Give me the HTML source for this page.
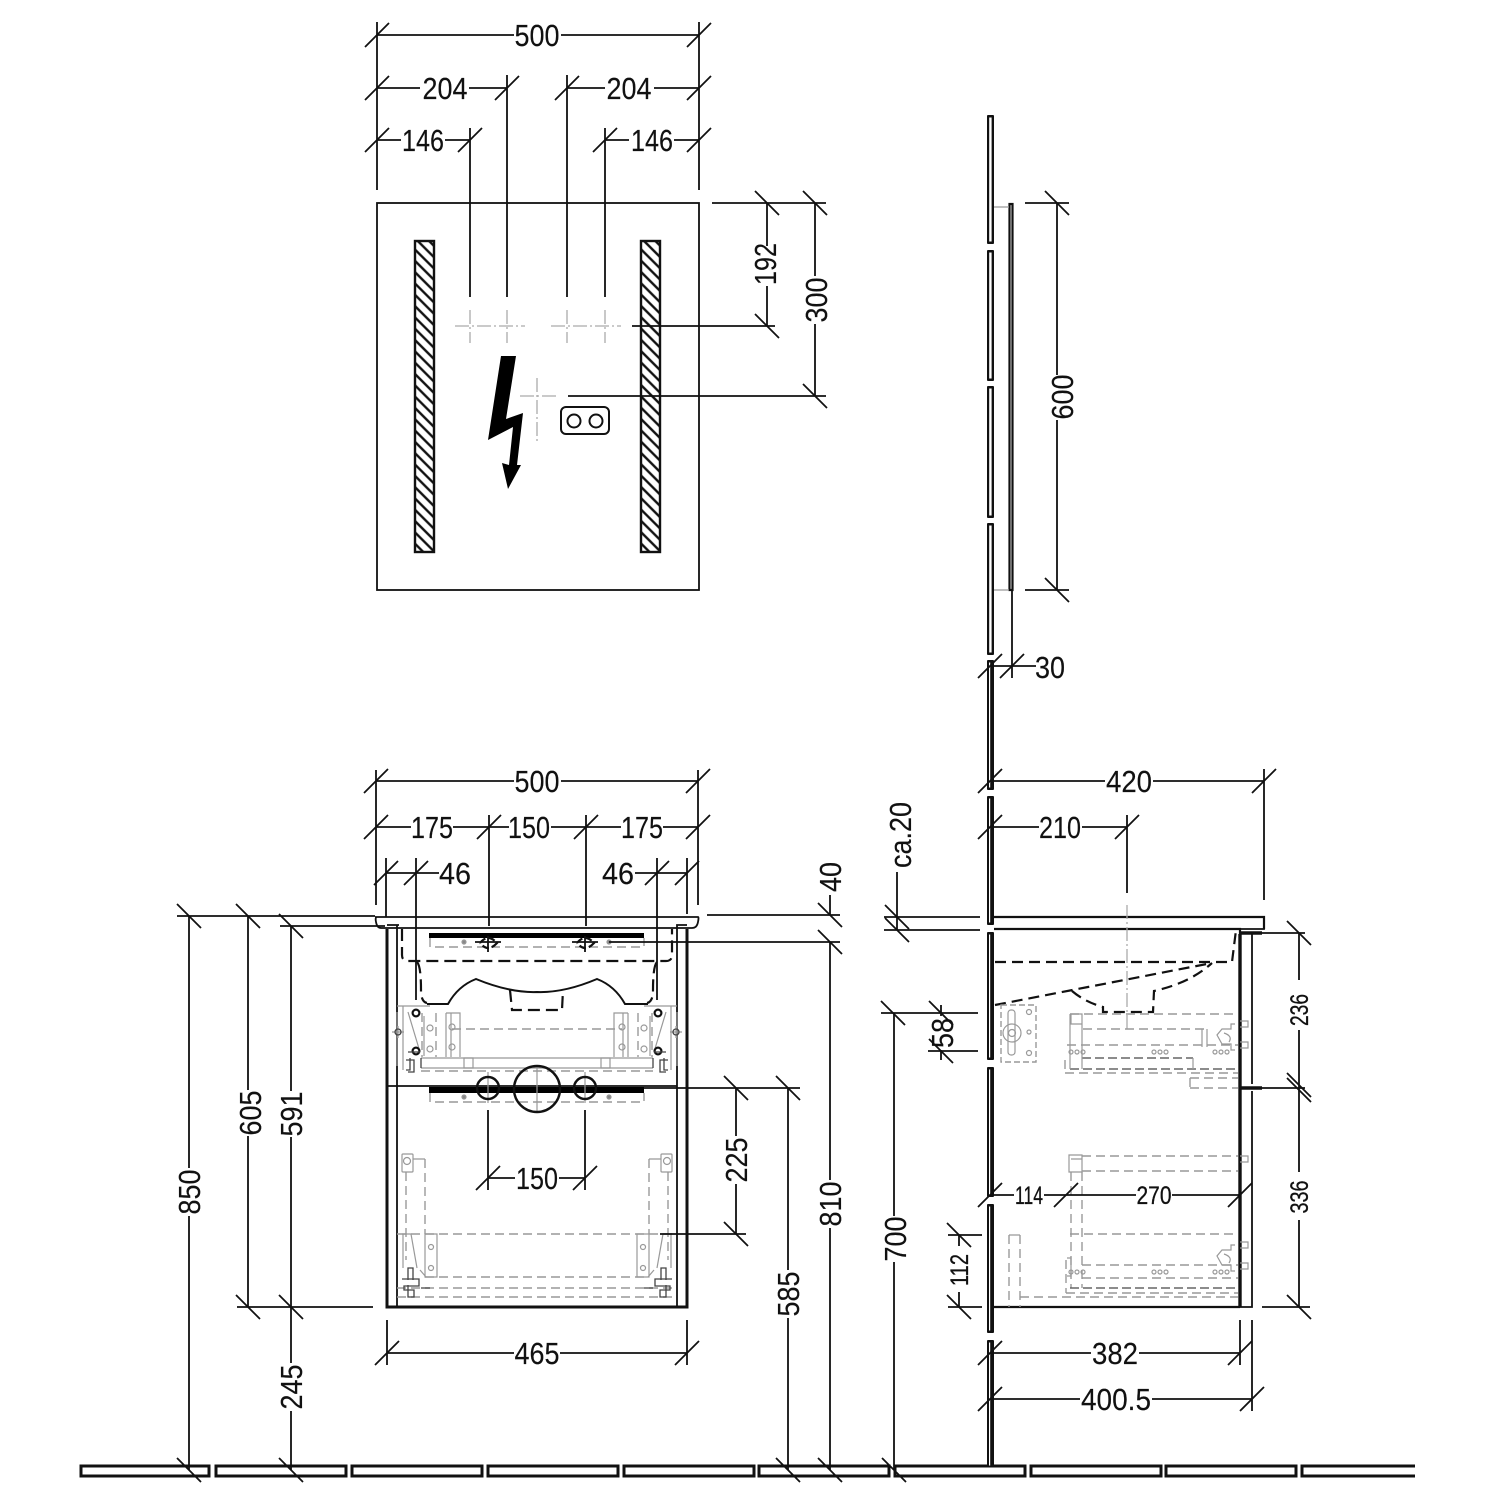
<!DOCTYPE html>
<html><head><meta charset="utf-8"><style>
html,body{margin:0;padding:0;background:#fff}
svg{display:block}
text{font-family:"Liberation Sans",sans-serif;font-size:31px;fill:#111;stroke:#111;stroke-width:.15;text-anchor:middle}
.s{font-size:25px;stroke-width:.3}
path,line,rect,circle,polyline{fill:none}
.k{stroke:#111;stroke-width:1.8}
.g{stroke:#999;stroke-width:1.2}
.gd{stroke:#999;stroke-width:1.4;stroke-dasharray:9 5}
.dd{stroke:#666;stroke-width:1.4;stroke-dasharray:9 4}
.bd{stroke:#111;stroke-width:2.2;stroke-dasharray:11 6}
.th{stroke:#111;stroke-width:3}
.cd{stroke:#aaa;stroke-width:1.3;stroke-dasharray:14 3 2 3}
.hw{stroke:#444;stroke-width:1.3}
.wb{fill:#111}
.ww{fill:#fff}
</style></head><body>
<svg width="1500" height="1500" viewBox="0 0 1500 1500" xmlns="http://www.w3.org/2000/svg">
<defs>
<path id="h" class="k" d="M-12 12L12-12"/>
<path id="v" class="k" d="M-12-12L12 12"/>
<pattern id="hat" width="8" height="8" patternUnits="userSpaceOnUse" patternTransform="rotate(45)"><rect width="8" height="8" class="ww"/><line x1="0" y1="3" x2="8" y2="3" stroke="#111" stroke-width="2.4"/></pattern>
<g id="fu">
<path class="g" d="M397 1006H430M403 1006V1070M397 1012V1066M408 1012L420 1052M424 1016V1056M398 1026V1038M392 1032H404"/>
<path class="gd" d="M422 1013V1057M436 1013V1057"/>
<path class="g" d="M446 1013H460V1057M446 1013V1057M451 1013V1057M464 1058H473V1068H464Z"/>
<circle class="g" cx="430" cy="1028" r="3"/><circle class="g" cx="430" cy="1049" r="3"/><circle class="g" cx="452" cy="1027" r="3"/><circle class="g" cx="452" cy="1047" r="3"/>
<circle class="hw" cx="398" cy="1032" r="3"/>
<circle cx="416" cy="1013" r="3.4" stroke="#111" stroke-width="2.2"/><circle cx="416" cy="1051" r="3.4" stroke="#111" stroke-width="2.2"/>
<path class="hw" d="M408 1052H420M410 1058V1070H406M406 1060H414V1072H408M421 1058V1068"/>
</g>
<g id="fl">
<rect class="g" x="402" y="1154" width="11" height="18" rx="1"/><circle class="g" cx="407" cy="1161" r="3.5"/>
<path class="g" d="M413 1159H425M425 1234H437V1277H425Z"/>
<path class="gd" d="M425 1159V1234M406 1172V1260"/>
<circle class="g" cx="431" cy="1247" r="2.5"/><circle class="g" cx="431" cy="1268" r="2.5"/>
<path class="g" d="M402 1234H411L417 1268M403 1234V1268M420 1270L426 1277"/>
<path class="hw" d="M408 1280V1268H413V1280M402 1279H419V1286H404V1290H414V1297H408V1285M421 1288H430"/>
</g>
<g id="dr">
<circle class="g" cx="0" cy="0" r="2"/><circle class="g" cx="6" cy="0" r="2"/><circle class="g" cx="12" cy="0" r="2"/>
</g>
<g id="hook">
<path class="g" d="M1235 0H1231V5H1222L1217 11L1222 20H1231V26H1235M1240-3H1248V3H1240M1240 18H1248V24H1240M1224 9Q1233 12 1229 18"/>
</g>
</defs>

<!-- floor -->
<path class="th" d="M81 1466H209V1476H81ZM216 1466H346V1476H216ZM352 1466H482V1476H352ZM488 1466H618V1476H488ZM624 1466H754V1476H624ZM759 1466H889V1476H759ZM895 1466H1025V1476H895ZM1031 1466H1161V1476H1031ZM1166 1466H1296V1476H1166ZM1415 1466H1302V1476H1415"/>

<!-- mirror front -->
<rect class="k" x="377" y="203" width="322" height="387"/>
<rect x="415" y="241" width="19" height="311" style="fill:url(#hat)" stroke="#111" stroke-width="2.4"/>
<rect x="641" y="241" width="19" height="311" style="fill:url(#hat)" stroke="#111" stroke-width="2.4"/>
<path class="cd" d="M455 326H525M551 326H621M470 310V343M507 310V343M567 310V343M605 310V343M520 396H556M537 378V443"/>
<polygon points="501,356 516,356 506,419 523,413 517,465 521,465 508,489 502,463 509,465 513,427 488,440" style="fill:#000"/>
<rect x="561" y="407" width="48" height="27" rx="5" stroke="#111" stroke-width="2"/>
<circle cx="574" cy="421" r="6.5" stroke="#111" stroke-width="2"/><circle cx="596" cy="421" r="6.5" stroke="#111" stroke-width="2"/>

<!-- top dims -->
<path class="k" d="M377 22V190M699 22V190M377 35H514M561 35H699M377 88H420M469 88H507M567 88H605M654 88H699M507 75V297M567 75V297M377 140H401M445 140H470M605 140H629M674 140H699M470 128V297M605 128V297
M712 203H775M767 203V246M767 286V326M632 326H775M775 203H826M815 203V276M815 324V396M568 396H826"/>
<g>
<use href="#h" x="377" y="35"/><use href="#h" x="699" y="35"/><use href="#h" x="377" y="88"/><use href="#h" x="507" y="88"/><use href="#h" x="567" y="88"/><use href="#h" x="699" y="88"/><use href="#h" x="377" y="140"/><use href="#h" x="470" y="140"/><use href="#h" x="605" y="140"/><use href="#h" x="699" y="140"/>
<use href="#v" x="767" y="203"/><use href="#v" x="767" y="326"/><use href="#v" x="815" y="203"/><use href="#v" x="815" y="396"/>
</g>

<!-- wall -->
<rect class="wb" x="987" y="115" width="7" height="129" rx="1"/><rect class="ww" x="989.2" y="117.5" width="2.4" height="124"/>
<rect class="wb" x="987" y="250" width="7" height="131" rx="1"/><rect class="ww" x="989.2" y="252.5" width="2.4" height="126"/>
<rect class="wb" x="987" y="386" width="7" height="132" rx="1"/><rect class="ww" x="989.2" y="388.5" width="2.4" height="127"/>
<rect class="wb" x="987" y="523" width="7" height="132" rx="1"/><rect class="ww" x="989.2" y="525.5" width="2.4" height="127"/>
<rect class="wb" x="987" y="660" width="7" height="130" rx="1"/><rect class="ww" x="989" y="662.5" width="1.2" height="125"/>
<rect class="wb" x="987" y="796" width="7" height="129" rx="1"/><rect class="ww" x="989" y="798.5" width="1.2" height="124"/>
<rect class="wb" x="987" y="932" width="7" height="128" rx="1"/><rect class="ww" x="989" y="934.5" width="1.2" height="123"/>
<rect class="wb" x="987" y="1067" width="7" height="130" rx="1"/><rect class="ww" x="989" y="1069.5" width="1.2" height="125"/>
<rect class="wb" x="987" y="1204" width="7" height="129" rx="1"/><rect class="ww" x="989" y="1206.5" width="1.2" height="124"/>
<rect class="wb" x="987" y="1340" width="7" height="126" rx="1"/><rect class="ww" x="989" y="1342.5" width="1.2" height="123"/>
<rect x="1009.5" y="204" width="3" height="386" stroke="#111" stroke-width="2.2"/>
<path class="g" d="M994 207H1009M994 590H1009"/>

<!-- right dims upper -->
<path class="k" d="M1025 203H1069M1025 590H1069M1057 203V375M1057 420V590M1012 590V678M990 666H1036M990 781H1105M1153 781H1264M1264 769V900M990 827H1039M1082 827H1127M1127 815V893"/>
<use href="#v" x="1057" y="203"/><use href="#v" x="1057" y="590"/><use href="#h" x="990" y="666"/><use href="#h" x="1012" y="666"/><use href="#h" x="990" y="781"/><use href="#h" x="1264" y="781"/><use href="#h" x="990" y="827"/><use href="#h" x="1127" y="827"/>

<!-- side cabinet -->
<path class="th" style="stroke-width:2.2" d="M994 917H1264V929M994 929H1240V934M994 1307H1240"/>
<path class="k" d="M1264 917V929H1240"/>
<path stroke="#111" stroke-width="3.4" d="M1240 934V1307M1240 933H1262M1240 1088H1262"/>
<path class="k" d="M1252 934V1084M1252 1091V1307H1240M1262 933H1305M1262 1088H1305M1262 1307H1310M1299 933V980M1299 1030V1172M1299 1220V1307"/>
<use href="#v" x="1299" y="933"/><use href="#v" x="1299" y="1085"/><use href="#v" x="1299" y="1090"/><use href="#v" x="1299" y="1307"/>
<path class="cd" d="M1127 905V1030"/>
<path class="bd" d="M995 962H1232L1236 930M995 1005L1212 963M1072 991Q1085 1002 1103 1007V1012H1153L1154 991Q1190 983 1212 963"/>

<!-- side hardware upper -->
<rect class="gd" x="1001" y="1005" width="35" height="57" style="stroke-dasharray:6 3"/>
<rect class="g" x="1008" y="1010" width="7" height="45" rx="3"/><circle class="g" cx="1012" cy="1033" r="3.5"/><circle class="g" cx="1012" cy="1033" r="9"/>
<circle class="g" cx="1029" cy="1012" r="2.5"/><circle class="g" cx="1029" cy="1032" r="2"/><circle class="g" cx="1029" cy="1053" r="2.5"/>
<path class="gd" d="M1070 1014H1238M1083 1029H1205M1067 1045H1238M1190 1078H1238M1190 1088H1238M1065 1073H1238M1190 1078V1088M1065 1060V1073"/>
<path class="dd" d="M1082 1058H1193M1070 1069H1238"/>
<path class="g" d="M1071 1014H1082V1024H1071ZM1082 1014V1069M1070 1014V1069M1202 1029V1047M1207 1029V1047M1193 1058V1069"/>
<use href="#dr" x="1071" y="1052"/><use href="#dr" x="1154" y="1052"/><use href="#dr" x="1215" y="1052"/>
<use href="#hook" x="0" y="1024"/>
<!-- side hardware lower -->
<path class="gd" d="M1082 1156H1238M1082 1171H1238M1070 1234H1238M1082 1265H1238M1082 1278H1238M1066 1293H1238M1020 1297H1238M1009 1235V1307M1020 1235V1307M1071 1172V1288M1082 1172V1288M1066 1260V1293"/>
<path class="dd" d="M1070 1288H1238"/>
<path class="g" d="M1069 1155H1082V1172H1069ZM1071 1159H1082M1009 1235H1020M1240 1156H1248V1162H1240M1067 1258H1071V1276H1067"/>
<use href="#dr" x="1071" y="1272"/><use href="#dr" x="1154" y="1272"/><use href="#dr" x="1215" y="1272"/>
<use href="#hook" x="0" y="1245"/>

<!-- left of side dims -->
<path class="k" d="M884 917H980M884 930H980M897 872V930M881 1013H978M928 1051H978M894 1013V1216M894 1262V1470M941 1005V1016M941 1050V1060M948 1235H982M948 1307H982M959 1235V1246M959 1292V1307"/>
<use href="#v" x="897" y="917"/><use href="#v" x="897" y="930"/><use href="#v" x="893" y="1013"/><use href="#v" x="941" y="1013"/><use href="#v" x="941" y="1051"/><use href="#v" x="959" y="1235"/><use href="#v" x="959" y="1307"/><use href="#v" x="894" y="1470"/>
<!-- side lower dims -->
<path class="k" d="M990 1195H1014M1044 1195H1136M1172 1195H1240M1240 1320V1365M1252 1320V1411M990 1353H1091M1139 1353H1240M990 1399H1080M1152 1399H1252"/>
<use href="#h" x="990" y="1195"/><use href="#h" x="1066" y="1195"/><use href="#h" x="1240" y="1195"/><use href="#h" x="990" y="1353"/><use href="#h" x="1240" y="1353"/><use href="#h" x="990" y="1399"/><use href="#h" x="1252" y="1399"/>

<!-- front cabinet -->
<path class="k" d="M375 917H698Q699 917 698 922Q697 928 692 928H381Q377 928 376 922Q375 917 377 917Z"/>
<path stroke="#111" stroke-width="3" d="M387 929V1307H687V929"/>
<path class="k" d="M387 925H397V1307M677 1307V925H687M397 1086H677M387 1086H429M399 925H387"/>
<rect x="429" y="933" width="215" height="5" style="fill:#000"/>
<rect x="429" y="1087" width="215" height="6" style="fill:#000"/>
<path class="k" d="M644 1088H687"/>
<path class="gd" d="M430 938V947H644V938M430 1093V1102H644V1093"/>
<circle class="g" cx="464" cy="942" r="2" style="fill:#888"/><circle class="g" cx="609" cy="942" r="2" style="fill:#888"/><circle class="g" cx="464" cy="1097" r="2" style="fill:#888"/><circle class="g" cx="609" cy="1097" r="2" style="fill:#888"/>
<path class="bd" style="stroke-dasharray:7 3" d="M480 943Q488 933 497 943Q488 953 480 943M577 943Q585 933 594 943Q585 953 577 943"/>
<path class="k" d="M488 936V952M585 936V952M475 942H501M572 942H598M609 942H840"/>
<path class="bd" style="stroke-dasharray:12 6" d="M402 929V955Q402 961 408 961H666Q672 961 672 955V929M417 962Q421 966 421 990Q421 1002 427 1003M657 962Q653 966 653 990Q653 1002 647 1003M510 990L512 1010H562L563 990"/>
<path stroke="#111" stroke-width="2" d="M427 1004H448Q458 986 476 979Q510 993 537 992Q564 993 597 979Q615 986 625 1004H648"/>
<path class="gd" d="M452 1029H622"/>
<path class="g" d="M421 1058H653M421 1068H653"/>
<path class="gd" d="M421 1071H653"/>
<use href="#fu"/><use href="#fu" transform="translate(1074,0) scale(-1,1)"/>
<path class="g" d="M537 1066V1112M488 1072V1103M585 1072V1103"/>
<circle cx="488" cy="1088" r="11" stroke="#111" stroke-width="2.4"/><circle cx="585" cy="1088" r="11" stroke="#111" stroke-width="2.4"/><circle cx="537" cy="1089" r="23" stroke="#111" stroke-width="2.4"/>
<!-- front lower hw -->
<path class="gd" d="M397 1234H676M425 1277H649M397 1288H676M397 1297H676"/>
<use href="#fl"/><use href="#fl" transform="translate(1074,0) scale(-1,1)"/>

<!-- front dims -->
<path class="k" d="M376 770V905M698 770V905M376 781H514M561 781H698M376 827H411M453 827H509M551 827H621M663 827H698M489 815V926M586 815V926M386 858V917M687 858V914M416 858V1000M657 858V1000M386 873H439M635 873H687
M707 915H840M830 895V915M830 942V1180M830 1228V1470M687 1088H800M720 1088H748M736 1088V1136M736 1184V1234M660 1234H746M788 1088V1270M788 1318V1470
M177 916H375M189 916V1168M189 1216V1470M237 916H250M248 916V1090M248 1136V1307M237 1307H373M280 926H385M291 926V1091M291 1137V1363M291 1411V1470
M488 1110V1190M585 1110V1190M488 1178H515M559 1178H585M387 1320V1365M687 1320V1365M387 1353H514M560 1353H687"/>
<use href="#h" x="376" y="781"/><use href="#h" x="698" y="781"/><use href="#h" x="376" y="827"/><use href="#h" x="489" y="827"/><use href="#h" x="586" y="827"/><use href="#h" x="698" y="827"/><use href="#h" x="386" y="873"/><use href="#h" x="416" y="873"/><use href="#h" x="657" y="873"/><use href="#h" x="687" y="873"/>
<use href="#v" x="830" y="915"/><use href="#v" x="830" y="942"/><use href="#v" x="830" y="1470"/><use href="#v" x="736" y="1088"/><use href="#v" x="736" y="1234"/><use href="#v" x="788" y="1088"/><use href="#v" x="788" y="1470"/>
<use href="#v" x="189" y="916"/><use href="#v" x="189" y="1470"/><use href="#v" x="248" y="916"/><use href="#v" x="248" y="1307"/><use href="#v" x="291" y="926"/><use href="#v" x="291" y="1307"/><use href="#v" x="291" y="1470"/>
<use href="#h" x="488" y="1178"/><use href="#h" x="585" y="1178"/><use href="#h" x="387" y="1353"/><use href="#h" x="687" y="1353"/>

<!-- text -->
<text x="537" y="46" textLength="45" lengthAdjust="spacingAndGlyphs">500</text>
<text x="445" y="99" textLength="45" lengthAdjust="spacingAndGlyphs">204</text>
<text x="629" y="99" textLength="45" lengthAdjust="spacingAndGlyphs">204</text>
<text x="423" y="151" textLength="42" lengthAdjust="spacingAndGlyphs">146</text>
<text x="652" y="151" textLength="42" lengthAdjust="spacingAndGlyphs">146</text>
<text transform="translate(765,264) rotate(-90)" y="11" textLength="42" lengthAdjust="spacingAndGlyphs">192</text>
<text transform="translate(816,300) rotate(-90)" y="11" textLength="45" lengthAdjust="spacingAndGlyphs">300</text>
<text transform="translate(1062,397) rotate(-90)" y="11" textLength="45" lengthAdjust="spacingAndGlyphs">600</text>
<text x="1050" y="678" textLength="30" lengthAdjust="spacingAndGlyphs">30</text>
<text x="1129" y="792" textLength="46" lengthAdjust="spacingAndGlyphs">420</text>
<text x="1060" y="838" textLength="42" lengthAdjust="spacingAndGlyphs">210</text>
<text transform="translate(900,835) rotate(-90)" y="11" textLength="66" lengthAdjust="spacingAndGlyphs">ca.20</text>
<text transform="translate(830,877) rotate(-90)" y="11" textLength="30" lengthAdjust="spacingAndGlyphs">40</text>
<text x="537" y="792" textLength="45" lengthAdjust="spacingAndGlyphs">500</text>
<text x="432" y="838" textLength="42" lengthAdjust="spacingAndGlyphs">175</text>
<text x="529" y="838" textLength="42" lengthAdjust="spacingAndGlyphs">150</text>
<text x="642" y="838" textLength="42" lengthAdjust="spacingAndGlyphs">175</text>
<text x="455" y="884" textLength="32" lengthAdjust="spacingAndGlyphs">46</text>
<text x="618" y="884" textLength="32" lengthAdjust="spacingAndGlyphs">46</text>
<text transform="translate(189,1192) rotate(-90)" y="11" textLength="45" lengthAdjust="spacingAndGlyphs">850</text>
<text transform="translate(250,1113) rotate(-90)" y="11" textLength="45" lengthAdjust="spacingAndGlyphs">605</text>
<text transform="translate(291,1114) rotate(-90)" y="11" textLength="45" lengthAdjust="spacingAndGlyphs">591</text>
<text transform="translate(291,1387) rotate(-90)" y="11" textLength="45" lengthAdjust="spacingAndGlyphs">245</text>
<text x="537" y="1189" textLength="42" lengthAdjust="spacingAndGlyphs">150</text>
<text transform="translate(736,1160) rotate(-90)" y="11" textLength="45" lengthAdjust="spacingAndGlyphs">225</text>
<text transform="translate(788,1294) rotate(-90)" y="11" textLength="45" lengthAdjust="spacingAndGlyphs">585</text>
<text transform="translate(830,1204) rotate(-90)" y="11" textLength="45" lengthAdjust="spacingAndGlyphs">810</text>
<text transform="translate(895,1239) rotate(-90)" y="11" textLength="45" lengthAdjust="spacingAndGlyphs">700</text>
<text transform="translate(942,1033) rotate(-90)" y="11" textLength="30" lengthAdjust="spacingAndGlyphs">58</text>
<text class="s" transform="translate(959,1270) rotate(-90)" y="9" textLength="32" lengthAdjust="spacingAndGlyphs">112</text>
<text class="s" transform="translate(1299,1010) rotate(-90)" y="9" textLength="32" lengthAdjust="spacingAndGlyphs">236</text>
<text class="s" transform="translate(1299,1197) rotate(-90)" y="9" textLength="33" lengthAdjust="spacingAndGlyphs">336</text>
<text class="s" x="1029" y="1204" textLength="28" lengthAdjust="spacingAndGlyphs">114</text>
<text class="s" x="1154" y="1204" textLength="35" lengthAdjust="spacingAndGlyphs">270</text>
<text x="1115" y="1364" textLength="46" lengthAdjust="spacingAndGlyphs">382</text>
<text x="1116" y="1410" textLength="70" lengthAdjust="spacingAndGlyphs">400.5</text>
<text x="537" y="1364" textLength="45" lengthAdjust="spacingAndGlyphs">465</text>
</svg>
</body></html>
